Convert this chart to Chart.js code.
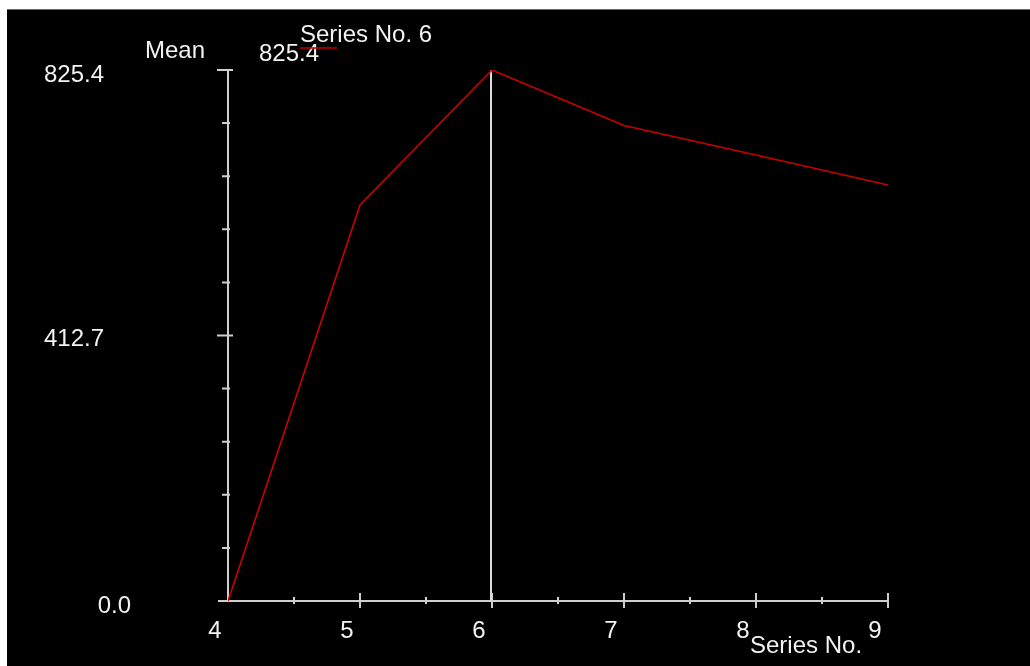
<!DOCTYPE html>
<html>
<head>
<meta charset="utf-8">
<script src="https://cdn.jsdelivr.net/npm/chart.js@4/dist/chart.umd.min.js"></script>
<style>
html,body{margin:0;padding:0;background:#fff;}
#wrap{position:absolute;left:0;top:0;width:1030px;height:666px;}
</style>
</head>
<body>
<div id="wrap"><canvas id="c" width="1030" height="666"></canvas></div>
<script>
const seriesNo = [4, 5, 6, 7, 8, 9];
const meanValues = [0.0, 615.6, 825.4, 739.1, 693.3, 646.6];
const yTickValues = [825.4, 412.7, 0.0];
const yTickLabels = ['825.4', '412.7', '0.0'];
const xTickValues = [4, 5, 6, 7, 8, 9];
const xTickLabels = ['4', '5', '6', '7', '8', '9'];
const seriesName = 'Series No. 6';
const cursorX = 6;
const cursorValueLabel = '825.4';
const yTitle = 'Mean';
const xTitle = 'Series No.';

const FONT = '24px "Liberation Sans", Arial, sans-serif';
const TEXT = '#f2f2f2';
const AXIS = '#cfcfcf';

const bgPlugin = {
  id: 'bg',
  beforeDraw(chart) {
    const ctx = chart.ctx;
    ctx.save();
    ctx.fillStyle = '#ffffff';
    ctx.fillRect(0, 0, chart.width, chart.height);
    ctx.fillStyle = '#000000';
    ctx.fillRect(7, 10, chart.width - 7, chart.height - 10);
    ctx.fillStyle = '#6a6a6a';
    ctx.fillRect(7, 9, chart.width - 7, 1);
    ctx.restore();
  }
};

const axesPlugin = {
  id: 'axes',
  beforeDatasetsDraw(chart) {
    const ctx = chart.ctx;
    const xs = chart.scales.x, ys = chart.scales.y;
    const x0 = xs.getPixelForValue(4), x1 = xs.getPixelForValue(9);
    const y0 = ys.getPixelForValue(0), y1 = ys.getPixelForValue(825.4);
    ctx.save();
    ctx.strokeStyle = AXIS;
    ctx.lineWidth = 2;
    ctx.beginPath();
    ctx.moveTo(x0 - 10, y0); ctx.lineTo(x1, y0);
    ctx.moveTo(x0, y0); ctx.lineTo(x0, y1);
    xTickValues.forEach(v => {
      if (v === 4) return;
      const px = xs.getPixelForValue(v);
      ctx.moveTo(px, y0 - 8); ctx.lineTo(px, y0 + 7);
    });
    for (let i = 0; i < xTickValues.length - 1; i++) {
      const px = xs.getPixelForValue((xTickValues[i] + xTickValues[i + 1]) / 2);
      ctx.moveTo(px, y0 - 4); ctx.lineTo(px, y0 + 3);
    }
    yTickValues.forEach(v => {
      if (v === 0) return;
      const py = ys.getPixelForValue(v);
      ctx.moveTo(x0 - 11, py); ctx.lineTo(x0 + 5, py);
    });
    const step = 825.4 / 10;
    for (let i = 1; i < 10; i++) {
      if (i === 5) continue;
      const py = ys.getPixelForValue(step * i);
      ctx.moveTo(x0 - 6, py); ctx.lineTo(x0 + 2, py);
    }
    ctx.stroke();
    ctx.strokeStyle = '#dcdcdc';
    ctx.beginPath();
    const cx = xs.getPixelForValue(cursorX) - 1;
    ctx.moveTo(cx, y0); ctx.lineTo(cx, y1);
    ctx.stroke();

    ctx.font = FONT;
    ctx.fillStyle = TEXT;
    ctx.textBaseline = 'middle';
    yTickValues.forEach((v, i) => {
      const py = ys.getPixelForValue(v);
      ctx.textAlign = 'right';
      if (v === 0) {
        ctx.fillText(yTickLabels[i], x0 - 97, py + 5);
      } else {
        ctx.fillText(yTickLabels[i], x0 - 124, py + (i === 0 ? 5 : 4));
      }
    });
    ctx.textAlign = 'center';
    xTickValues.forEach((v, i) => {
      const px = xs.getPixelForValue(v);
      ctx.fillText(xTickLabels[i], px - 13, y0 + 30);
    });
    ctx.textAlign = 'left';
    ctx.fillText(xTitle, 750, y0 + 45);
    ctx.fillText(yTitle, 145, 51);
    ctx.fillText(cursorValueLabel, 259, 54);
    ctx.fillText(seriesName, 300, 35);
    ctx.strokeStyle = '#c00000';
    ctx.lineWidth = 1.5;
    ctx.beginPath();
    ctx.moveTo(300, 48); ctx.lineTo(337, 48);
    ctx.stroke();
    ctx.restore();
  }
};

new Chart(document.getElementById('c'), {
  type: 'line',
  data: {
    datasets: [{
      label: seriesName,
      data: seriesNo.map((x, i) => ({x: x, y: meanValues[i]})),
      borderColor: '#c80000',
      borderWidth: 1.6,
      pointRadius: 0,
      tension: 0,
      fill: false
    }]
  },
  options: {
    responsive: false,
    animation: false,
    devicePixelRatio: 1,
    layout: { padding: { left: 228, right: 142, top: 70, bottom: 65 } },
    plugins: { legend: { display: false }, tooltip: { enabled: false } },
    scales: {
      x: { type: 'linear', min: 4, max: 9, display: false },
      y: { type: 'linear', min: 0, max: 825.4, display: false }
    }
  },
  plugins: [bgPlugin, axesPlugin]
});
</script>
</body>
</html>
